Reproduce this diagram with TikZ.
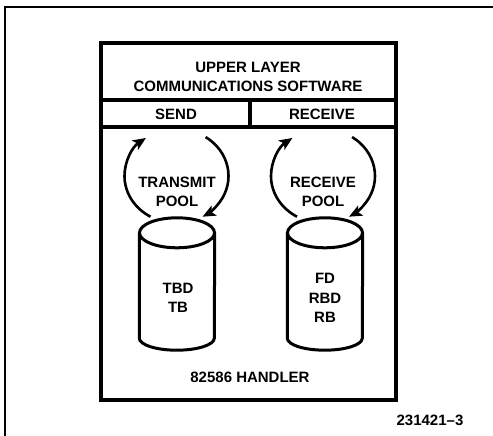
\documentclass[tikz,border=0pt]{standalone}
\usepackage{fontspec}
\setmainfont{Liberation Sans}
\usetikzlibrary{arrows.meta}
\tikzset{
thick box/.style={draw, line width=3.2pt}, % handler frame and dividers
pool/.style={minimum width=75pt, minimum height=105pt, inner sep=0pt},
pool line/.style={line width=3pt},
cycle/.style={line width=2.6pt, -{Stealth[length=13pt,width=11pt,inset=3pt]}},
lbl/.style={font=\fontsize{15}{19.5}\selectfont\bfseries, align=center, inner sep=0pt},
}
% side walls, bottom and top rim of a buffer pool
\newcommand\drawpool[1]{%
  \draw[pool line] (#1.north west) -- (#1.south west)
    arc[start angle=180, end angle=360, x radius=37.5, y radius=12] -- (#1.north east);
  \draw[pool line] (#1.north) ellipse[x radius=37.5, y radius=15];
}
\begin{document}
\begin{tikzpicture}[x=1pt,y=1pt]
\useasboundingbox (0,0) rectangle (493,436);
% page frame
\draw[line width=1.3pt] (493,429) -- (5,429) -- (5,0);
% handler box
\coordinate (nw) at (101,393);
\coordinate (se) at (396,36);
\draw[thick box] (nw) rectangle (se);
\draw[thick box] (101,336) -- (396,336);
\draw[thick box] (101,309) -- (396,309);
\draw[thick box] (250,336) -- (250,309);
\node[lbl] (upper) at (248,359) {UPPER LAYER\\COMMUNICATIONS SOFTWARE};
\node[lbl] (send) at (176,322) {SEND};
\node[lbl] (recv) at (322,322) {RECEIVE};
% buffer pools
\node[pool] (tpool) at (177,150.5) {};
\node[pool] (rpool) at (325,150.5) {};
\drawpool{tpool}
\drawpool{rpool}
\node[lbl] (tlist) at (178,138) {TBD\\TB};
\node[lbl] (rlist) at (325,138) {FD\\RBD\\RB};
\node[lbl] (tname) at (177,244) {TRANSMIT\\POOL};
\node[lbl] (rname) at (323,244) {RECEIVE\\POOL};
\coordinate (tloop) at (176.5,260);
\coordinate (rloop) at (323,260);
\draw[cycle] (tloop) ++(240:52 and 47) arc[start angle=240, end angle=126, x radius=52, y radius=47];
\draw[cycle] (tloop) ++(56:52 and 47) arc[start angle=56, end angle=-60, x radius=52, y radius=47];
\draw[cycle] (rloop) ++(240:52 and 47) arc[start angle=240, end angle=126, x radius=52, y radius=47];
\draw[cycle] (rloop) ++(56:52 and 47) arc[start angle=56, end angle=-60, x radius=52, y radius=47];
\node[lbl] (handler) at (250,59) {82586 HANDLER};
\node[lbl] (fig) at (430,16) {231421–3};
\end{tikzpicture}
\end{document}
